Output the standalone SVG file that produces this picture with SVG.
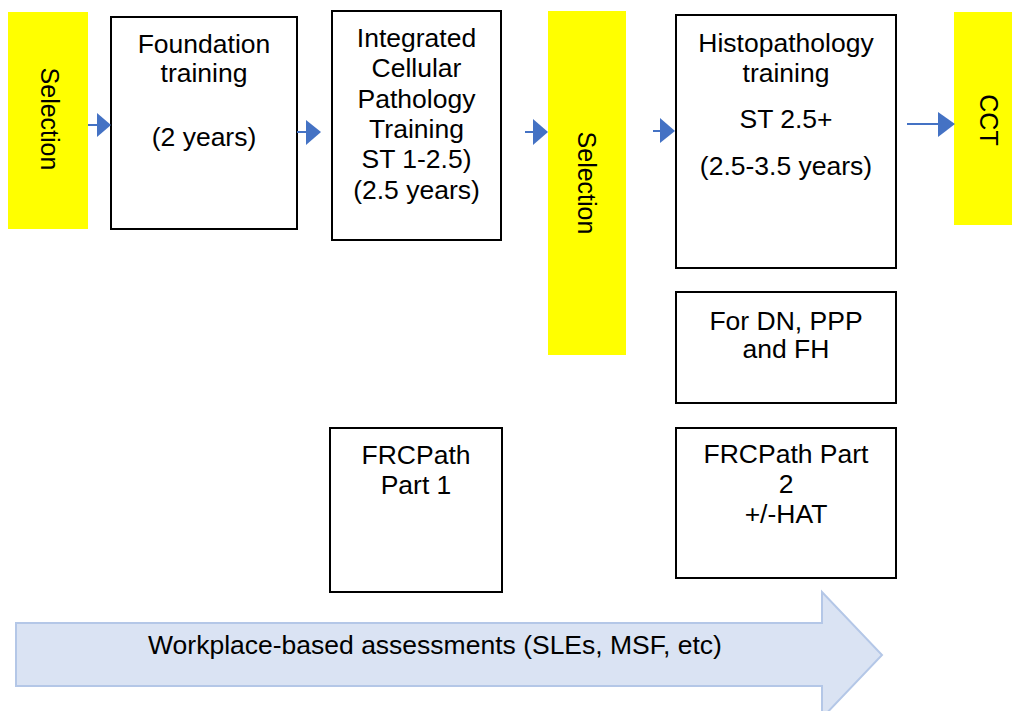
<svg xmlns="http://www.w3.org/2000/svg" width="1012" height="711" viewBox="0 0 1012 711">
<style>
text{font-family:"Liberation Sans",Arial,sans-serif;font-size:26.5px;fill:#000;text-anchor:middle}
.rot{font-size:25px}
.box{fill:#fff;stroke:#000;stroke-width:2}
.sel{fill:#ffff00}
.shaft{stroke:#4472C4;stroke-width:2;fill:none}
.head{fill:#4472C4}
</style>
<rect width="1012" height="711" fill="#fff"/>
<g id="selection1">
<rect class="sel" x="8" y="12" width="80" height="217"/>
<text class="rot" transform="translate(50,119) rotate(90)" dy="0.36em">Selection</text>
</g>
<g id="foundation">
<rect class="box" x="111" y="17" width="186" height="212"/>
<text x="204" y="53">Foundation</text>
<text x="204" y="82">training</text>
<text x="204" y="146">(2 years)</text>
</g>
<g id="icpt">
<rect class="box" x="332" y="11" width="169" height="229"/>
<text x="416.5" y="47">Integrated</text>
<text x="416.5" y="77">Cellular</text>
<text x="416.5" y="108">Pathology</text>
<text x="416.5" y="138">Training</text>
<text x="416.5" y="168">ST 1-2.5)</text>
<text x="416.5" y="199">(2.5 years)</text>
</g>
<g id="selection2">
<rect class="sel" x="548" y="11" width="78" height="344"/>
<text class="rot" transform="translate(587,183) rotate(90)" dy="0.36em">Selection</text>
</g>
<g id="histopathology">
<rect class="box" x="676" y="15" width="220" height="253"/>
<text x="786" y="52">Histopathology</text>
<text x="786" y="82">training</text>
<text x="786" y="128">ST 2.5+</text>
<text x="786" y="175">(2.5-3.5 years)</text>
</g>
<g id="cct">
<rect class="sel" x="954" y="12" width="58" height="213"/>
<text class="rot" transform="translate(989,120) rotate(90)" dy="0.36em">CCT</text>
</g>
<g id="dnppp">
<rect class="box" x="676" y="292" width="220" height="111"/>
<text x="786" y="330">For DN, PPP</text>
<text x="786" y="358">and FH</text>
</g>
<g id="frcpath1">
<rect class="box" x="330" y="428" width="172" height="164"/>
<text x="416" y="464">FRCPath</text>
<text x="416" y="494">Part 1</text>
</g>
<g id="frcpath2">
<rect class="box" x="676" y="428" width="220" height="150"/>
<text x="786" y="463">FRCPath Part</text>
<text x="786" y="493">2</text>
<text x="786" y="523">+/-HAT</text>
</g>
<g id="wpba">
<path d="M16,623 L822,623 L822,592 L882,655 L822,718 L822,686 L16,686 Z" fill="#DAE3F3" stroke="#B4C7E7" stroke-width="2"/>
<text x="435" y="654">Workplace-based assessments (SLEs, MSF, etc)</text>
</g>
<g id="connectors">
<line class="shaft" x1="88" y1="125" x2="98" y2="125"/>
<polygon class="head" points="97,113 111,125 97,137"/>
<line class="shaft" x1="297" y1="132" x2="307" y2="132"/>
<polygon class="head" points="306,120 321,132 306,145"/>
<line class="shaft" x1="525" y1="132" x2="534" y2="132"/>
<polygon class="head" points="533,119 548,132 533,145"/>
<line class="shaft" x1="653" y1="131" x2="661" y2="131"/>
<polygon class="head" points="660,118 675,131 660,143"/>
<line class="shaft" x1="907" y1="124" x2="939" y2="124"/>
<polygon class="head" points="938,112 955,124 938,137"/>
</g>
</svg>
